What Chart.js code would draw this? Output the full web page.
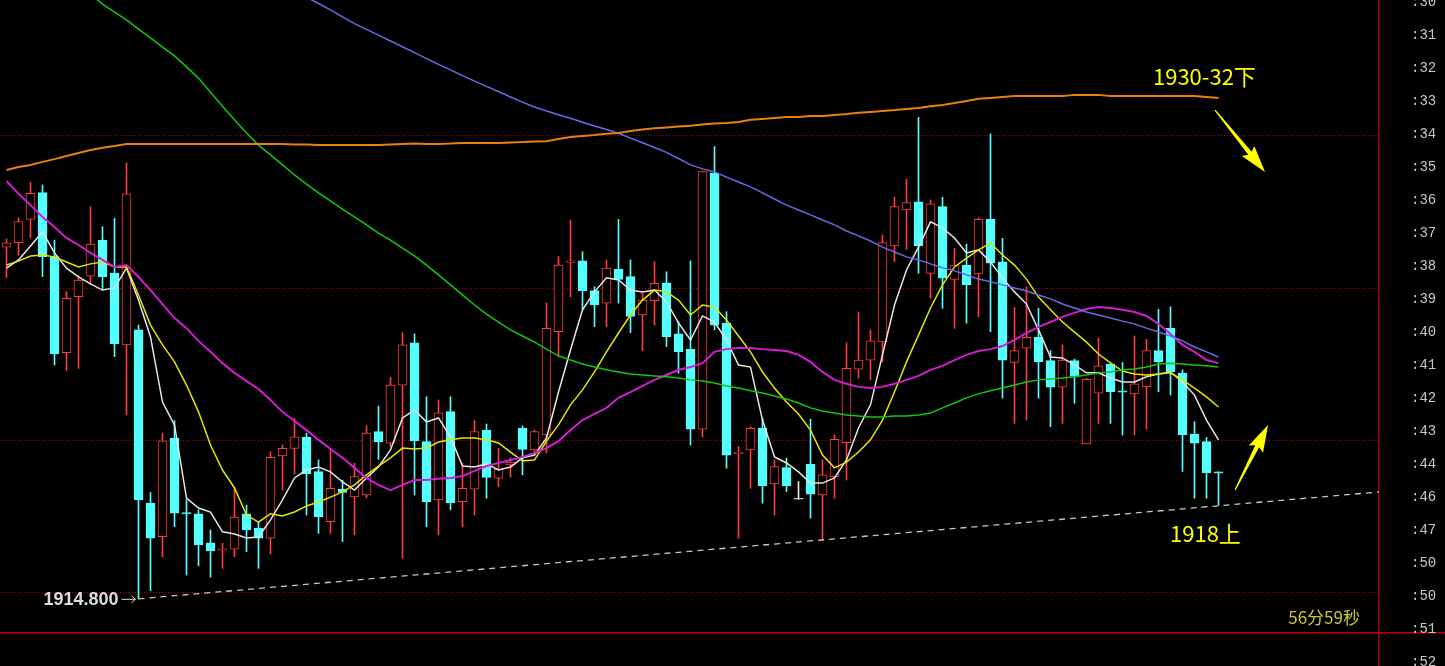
<!DOCTYPE html>
<html>
<head>
<meta charset="utf-8">
<script src="https://cdn.jsdelivr.net/npm/chart.js@4.4.1/dist/chart.umd.min.js"></script>
<style>
  html, body { margin: 0; padding: 0; background: #000; overflow: hidden; }
  canvas { display: block; }
</style>
</head>
<body>
<canvas id="kline" width="1445" height="666"></canvas>
<script>
// candle data (one bar per period)
const candleO = [1926.35, 1926.50, 1927.26, 1928.14, 1926.04, 1922.88, 1924.72, 1925.40, 1926.58, 1925.49,
  1923.14, 1923.63, 1917.94, 1916.84, 1920.07, 1917.63, 1917.59, 1916.64, 1916.40, 1916.43,
  1917.59, 1917.12, 1916.79, 1919.49, 1919.74, 1920.10, 1918.98, 1917.33, 1918.40, 1918.15,
  1918.21, 1920.29, 1919.91, 1921.82, 1923.21, 1919.96, 1918.05, 1920.95, 1917.99, 1918.40,
  1920.34, 1918.76, 1919.20, 1920.40, 1919.69, 1920.18, 1923.57, 1925.85, 1925.90, 1924.92,
  1924.51, 1925.62, 1925.38, 1924.12, 1924.59, 1925.18, 1923.50, 1922.99, 1920.37, 1928.78,
  1923.85, 1919.57, 1919.69, 1920.40, 1918.57, 1919.11, 1918.07, 1919.22, 1918.21, 1918.81,
  1919.93, 1922.34, 1922.64, 1923.24, 1926.39, 1927.57, 1927.84, 1925.49, 1927.68, 1925.29,
  1925.76, 1925.47, 1927.26, 1925.87, 1922.56, 1923.03, 1923.39, 1922.62, 1921.75, 1922.62,
  1919.89, 1921.55, 1922.51, 1921.63, 1921.53, 1921.77, 1922.95, 1923.68, 1922.21, 1920.21,
  1919.96, 1918.97];
const candleH = [1926.62, 1927.31, 1928.47, 1928.39, 1926.58, 1924.89, 1925.40, 1927.68, 1927.02, 1927.30,
  1929.12, 1923.79, 1918.29, 1920.24, 1920.65, 1918.05, 1917.72, 1917.06, 1916.62, 1918.46,
  1917.88, 1917.33, 1919.63, 1919.85, 1920.73, 1920.24, 1919.36, 1919.74, 1918.70, 1919.25,
  1920.48, 1921.13, 1922.07, 1923.54, 1923.50, 1921.44, 1921.33, 1921.44, 1919.25, 1920.67,
  1920.54, 1919.74, 1919.43, 1920.48, 1920.34, 1924.51, 1926.04, 1927.24, 1926.20, 1925.05,
  1925.93, 1927.26, 1925.93, 1924.84, 1925.87, 1925.54, 1923.90, 1925.90, 1928.85, 1929.65,
  1924.23, 1919.80, 1920.45, 1920.73, 1919.36, 1919.42, 1918.65, 1920.70, 1919.36, 1920.18,
  1923.21, 1924.22, 1923.63, 1926.75, 1927.99, 1928.58, 1930.61, 1927.90, 1927.99, 1926.31,
  1926.45, 1927.31, 1930.07, 1926.64, 1924.37, 1925.05, 1924.34, 1922.95, 1923.14, 1922.67,
  1922.04, 1923.36, 1922.54, 1922.56, 1923.43, 1923.32, 1924.31, 1924.39, 1922.32, 1920.62,
  1920.10, 1918.97];
const candleL = [1925.34, 1926.09, 1926.65, 1925.38, 1922.48, 1922.29, 1922.37, 1925.11, 1924.94, 1922.75,
  1920.84, 1914.80, 1915.07, 1916.18, 1917.17, 1915.58, 1915.88, 1915.51, 1915.80, 1916.18,
  1916.35, 1915.80, 1916.27, 1918.37, 1918.90, 1917.55, 1916.95, 1916.95, 1916.68, 1916.90,
  1918.11, 1919.38, 1919.79, 1916.13, 1918.21, 1917.17, 1916.90, 1917.72, 1917.17, 1917.55,
  1918.10, 1918.48, 1918.80, 1918.87, 1919.52, 1919.59, 1922.75, 1924.72, 1924.29, 1923.74,
  1923.74, 1924.51, 1923.54, 1922.95, 1923.79, 1923.08, 1922.21, 1919.85, 1920.12, 1923.63,
  1919.09, 1916.79, 1918.43, 1917.94, 1917.55, 1918.32, 1918.07, 1917.45, 1916.73, 1918.10,
  1918.70, 1922.04, 1921.99, 1922.58, 1925.87, 1926.28, 1925.49, 1924.67, 1924.34, 1923.68,
  1923.85, 1924.06, 1923.57, 1921.39, 1920.56, 1920.67, 1921.39, 1920.45, 1920.56, 1921.22,
  1919.89, 1920.56, 1920.56, 1920.18, 1920.18, 1920.37, 1921.60, 1921.49, 1918.98, 1918.10,
  1918.10, 1917.88];
const candleC = [1926.49, 1927.19, 1928.12, 1926.04, 1922.84, 1924.67, 1925.27, 1926.45, 1925.38, 1923.17,
  1928.10, 1918.05, 1916.79, 1919.99, 1917.61, 1917.59, 1916.57, 1916.38, 1916.44, 1917.48,
  1917.06, 1916.79, 1919.45, 1919.74, 1920.12, 1918.90, 1917.50, 1918.43, 1918.29, 1918.81,
  1920.24, 1919.96, 1921.82, 1923.14, 1919.99, 1917.99, 1920.91, 1917.96, 1918.43, 1920.29,
  1918.79, 1919.05, 1919.29, 1919.71, 1920.29, 1923.68, 1925.76, 1925.90, 1924.92, 1924.45,
  1925.66, 1925.29, 1924.07, 1924.61, 1925.16, 1923.41, 1922.92, 1920.37, 1928.83, 1923.79,
  1919.52, 1919.62, 1920.40, 1918.51, 1919.14, 1918.51, 1918.07, 1918.24, 1918.87, 1920.04,
  1922.37, 1922.64, 1923.27, 1926.50, 1927.68, 1927.81, 1926.39, 1927.77, 1925.33, 1925.76,
  1925.11, 1927.26, 1925.82, 1922.64, 1922.95, 1923.39, 1922.59, 1921.75, 1922.64, 1922.10,
  1922.01, 1922.45, 1921.60, 1921.59, 1921.86, 1922.95, 1922.59, 1922.26, 1920.18, 1919.91,
  1918.94, 1918.93];

// moving averages
const ma5 = [1925.66, 1925.93, 1926.39, 1926.85, 1926.16, 1925.66, 1925.37, 1925.14, 1924.94, 1925.01,
  1925.66, 1924.61, 1923.40, 1921.26, 1920.51, 1918.11, 1917.78, 1917.65, 1917.00, 1916.93,
  1916.80, 1916.83, 1917.39, 1918.05, 1918.77, 1919.03, 1919.13, 1918.97, 1918.64, 1918.37,
  1918.77, 1919.13, 1919.69, 1920.74, 1921.00, 1920.61, 1920.74, 1920.11, 1919.16, 1919.13,
  1919.23, 1919.03, 1919.13, 1919.43, 1919.52, 1920.08, 1921.59, 1922.97, 1924.29, 1924.88,
  1925.34, 1925.27, 1924.94, 1924.88, 1924.94, 1924.55, 1923.86, 1923.30, 1924.09, 1923.89,
  1923.30, 1922.48, 1922.41, 1920.67, 1919.46, 1919.26, 1918.97, 1918.60, 1918.60, 1918.77,
  1919.36, 1920.41, 1921.17, 1922.81, 1924.45, 1925.60, 1926.35, 1927.18, 1926.98, 1926.65,
  1926.16, 1926.26, 1925.86, 1925.34, 1924.88, 1924.48, 1923.63, 1922.74, 1922.71, 1922.48,
  1922.22, 1922.22, 1922.05, 1921.92, 1921.92, 1922.09, 1922.18, 1922.25, 1921.92, 1921.49,
  1920.67, 1920.02];
const ma10 = [1925.76, 1925.89, 1926.06, 1926.09, 1926.03, 1925.86, 1925.70, 1925.80, 1925.86, 1925.70,
  1925.70, 1924.78, 1923.79, 1923.14, 1922.58, 1921.82, 1920.94, 1919.85, 1919.03, 1918.44,
  1917.55, 1917.32, 1917.59, 1917.52, 1917.65, 1917.85, 1917.98, 1918.14, 1918.31, 1918.54,
  1918.87, 1919.16, 1919.43, 1919.75, 1919.72, 1919.75, 1919.95, 1920.02, 1920.08, 1920.08,
  1920.02, 1919.92, 1919.62, 1919.33, 1919.36, 1919.98, 1920.51, 1921.17, 1921.66, 1922.25,
  1922.91, 1923.53, 1924.12, 1924.61, 1924.94, 1924.88, 1924.61, 1924.12, 1924.45, 1924.38,
  1923.96, 1923.43, 1922.91, 1922.25, 1921.72, 1921.26, 1920.87, 1920.34, 1919.52, 1919.10,
  1919.29, 1919.62, 1920.02, 1920.67, 1921.59, 1922.58, 1923.46, 1924.35, 1925.11, 1925.70,
  1925.99, 1926.26, 1926.49, 1926.09, 1925.76, 1925.30, 1924.71, 1924.29, 1923.89, 1923.56,
  1923.23, 1922.84, 1922.55, 1922.28, 1922.18, 1922.15, 1922.18, 1922.22, 1921.99, 1921.72,
  1921.43, 1921.10];
const ma20 = [1928.52, 1928.10, 1927.73, 1927.34, 1927.01, 1926.65, 1926.42, 1926.16, 1925.93, 1925.70,
  1925.76, 1925.37, 1924.94, 1924.48, 1924.02, 1923.69, 1923.27, 1922.91, 1922.54, 1922.22,
  1921.95, 1921.69, 1921.33, 1920.94, 1920.64, 1920.34, 1920.02, 1919.72, 1919.43, 1919.10,
  1918.77, 1918.54, 1918.37, 1918.54, 1918.70, 1918.70, 1918.74, 1918.77, 1918.83, 1919.00,
  1919.16, 1919.26, 1919.36, 1919.46, 1919.59, 1919.75, 1919.98, 1920.34, 1920.67, 1920.87,
  1921.07, 1921.40, 1921.59, 1921.79, 1921.99, 1922.15, 1922.32, 1922.41, 1922.54, 1922.91,
  1923.00, 1923.04, 1923.04, 1923.00, 1922.97, 1922.94, 1922.81, 1922.58, 1922.25, 1921.99,
  1921.86, 1921.76, 1921.72, 1921.76, 1921.86, 1921.99, 1922.12, 1922.32, 1922.45, 1922.64,
  1922.81, 1922.94, 1923.00, 1923.10, 1923.30, 1923.53, 1923.73, 1923.89, 1924.06, 1924.19,
  1924.32, 1924.38, 1924.35, 1924.29, 1924.22, 1924.09, 1923.83, 1923.50, 1923.14, 1922.91,
  1922.64, 1922.54];
const ma60 = [null, null, null, null, null, null, null,
  1934.66, 1934.33, 1934.07, 1933.81, 1933.51, 1933.22, 1932.92, 1932.63, 1932.27, 1931.90,
  1931.44, 1930.98, 1930.53, 1930.10, 1929.70, 1929.38, 1929.05, 1928.72, 1928.42, 1928.13,
  1927.87, 1927.60, 1927.34, 1927.08, 1926.81, 1926.58, 1926.32, 1926.06, 1925.76, 1925.44,
  1925.11, 1924.78, 1924.45, 1924.15, 1923.89, 1923.63, 1923.43, 1923.23, 1923.00, 1922.78,
  1922.64, 1922.51, 1922.41, 1922.32, 1922.25, 1922.18, 1922.15, 1922.12, 1922.09, 1922.05,
  1921.99, 1921.95, 1921.89, 1921.79, 1921.72, 1921.63, 1921.56, 1921.46, 1921.36, 1921.23,
  1921.07, 1920.97, 1920.90, 1920.84, 1920.80, 1920.77, 1920.77, 1920.80, 1920.80, 1920.84,
  1920.90, 1921.07, 1921.23, 1921.40, 1921.53, 1921.63, 1921.72, 1921.82, 1921.92, 1921.99,
  1922.02, 1922.05, 1922.09, 1922.15, 1922.22, 1922.25, 1922.32, 1922.35, 1922.41, 1922.51,
  1922.54, 1922.51, 1922.48, 1922.45, 1922.41];
const ma120 = [null, null, null, null, null, null, null, null, null, null,
  null, null, null, null, null, null, null, null, null, null,
  null, null, null, null, null,
  1934.56, 1934.35, 1934.14, 1933.91, 1933.69,
  1933.50, 1933.31, 1933.12, 1932.93, 1932.74, 1932.54, 1932.35, 1932.17, 1931.98, 1931.80,
  1931.63, 1931.46, 1931.28, 1931.11, 1930.95, 1930.82, 1930.70, 1930.58, 1930.45, 1930.33,
  1930.21, 1930.09, 1929.93, 1929.78, 1929.62, 1929.46, 1929.26, 1929.05, 1928.92, 1928.82,
  1928.65, 1928.49, 1928.33, 1928.13, 1927.93, 1927.73, 1927.57, 1927.41, 1927.24, 1927.08,
  1926.88, 1926.72, 1926.55, 1926.35, 1926.19, 1926.03, 1925.93, 1925.80, 1925.67, 1925.57,
  1925.44, 1925.30, 1925.21, 1925.11, 1925.01, 1924.91, 1924.78, 1924.65, 1924.48, 1924.35,
  1924.22, 1924.12, 1924.02, 1923.92, 1923.83, 1923.69, 1923.56, 1923.43, 1923.27, 1923.07,
  1922.91, 1922.74];
const ma250 = [1928.88, 1928.98, 1929.05, 1929.15, 1929.24, 1929.34, 1929.44, 1929.54, 1929.61, 1929.67,
  1929.74, 1929.74, 1929.74, 1929.74, 1929.74, 1929.74, 1929.74, 1929.74, 1929.74, 1929.74,
  1929.74, 1929.74, 1929.74, 1929.74, 1929.72, 1929.72, 1929.70, 1929.70, 1929.70, 1929.70,
  1929.70, 1929.70, 1929.72, 1929.74, 1929.75, 1929.74, 1929.74, 1929.75, 1929.77, 1929.77,
  1929.77, 1929.77, 1929.79, 1929.80, 1929.82, 1929.83, 1929.90, 1929.97, 1930.00, 1930.03,
  1930.07, 1930.10, 1930.16, 1930.21, 1930.25, 1930.28, 1930.31, 1930.34, 1930.38, 1930.41,
  1930.43, 1930.46, 1930.53, 1930.56, 1930.59, 1930.62, 1930.62, 1930.66, 1930.66, 1930.69,
  1930.72, 1930.76, 1930.79, 1930.82, 1930.85, 1930.89, 1930.92, 1930.98, 1931.02, 1931.08,
  1931.15, 1931.22, 1931.25, 1931.28, 1931.31, 1931.31, 1931.31, 1931.31, 1931.31, 1931.35,
  1931.35, 1931.35, 1931.31, 1931.31, 1931.31, 1931.31, 1931.31, 1931.31, 1931.31, 1931.31,
  1931.28, 1931.25];

// support line drawn from the low (bar index, price)
const trendX = [11, 114.4];
const trendY = [1914.80, 1918.31];

// price levels of the dotted grid, and the panel separator
const gridPrices = [1915, 1920, 1925, 1930];
const separatorPrice = [1913.69];

// right-hand tick labels (as shown, cut off)
const tickLabels = [':30', ':31', ':32', ':33', ':34', ':35', ':36', ':37', ':38', ':39', ':40',
  ':41', ':42', ':43', ':44', ':46', ':47', ':50', ':50', ':51', ':52'];

const UP = '#ff3b3b';
const DOWN = '#54ffff';
const FLAT = '#e6e6e6';

function candleColor(i) {
    if (candleC[i] > candleO[i]) return UP;
    if (candleC[i] < candleO[i]) return DOWN;
    return FLAT;
}

const priceMin = 1912.593;
const priceMax = 1934.466;
const xMin = -0.5417;
const xMax = 114.375;

function lineSet(values, color, width) {
    return {
        type: 'line',
        data: values.map((v, i) => ({ x: i, y: v })),
        borderColor: color,
        borderWidth: width,
        pointRadius: 0,
        tension: 0,
        spanGaps: false,
        order: 0
    };
}

// no extra room above/below the plot for the end labels
function noPad(s) {
    s.paddingTop = 0;
    s.paddingBottom = 0;
}

// text and arrows placed in data coordinates
const notes = [
    { text: '1930-32下', x: 95.54, y: 1931.94, color: '#ffff00', font: '22px "Noto Sans CJK SC"', align: 'left' },
    { text: '1918上', x: 96.96, y: 1916.93, color: '#ffff00', font: '22px "Noto Sans CJK SC"', align: 'left' },
    { text: '56分59秒', x: 112.79, y: 1914.17, color: '#c8c83c', font: '17px "Noto Sans CJK SC"', align: 'right' }
];
const arrows = [
    { from: [100.71, 1930.85], to: [104.88, 1928.82] },
    { from: [102.38, 1918.37], to: [105.13, 1920.51] }
];

const notesPlugin = {
    id: 'notes',
    afterDraw(chart) {
        const ctx = chart.ctx;
        const xs = chart.scales.x;
        const ys = chart.scales.y;
        ctx.save();
        ctx.textBaseline = 'middle';
        notes.forEach(n => {
            ctx.font = n.font;
            ctx.fillStyle = n.color;
            ctx.textAlign = n.align;
            ctx.fillText(n.text, xs.getPixelForValue(n.x), ys.getPixelForValue(n.y));
        });

        // lowest price marker
        const lowX = xs.getPixelForValue(11);
        const lowY = ys.getPixelForValue(candleL[11]);
        ctx.font = 'bold 18px "Liberation Sans"';
        ctx.fillStyle = '#dcdcdc';
        ctx.textAlign = 'right';
        ctx.fillText(candleL[11].toFixed(3), lowX - 20, lowY + 1);
        ctx.strokeStyle = '#dcdcdc';
        ctx.lineWidth = 1;
        ctx.beginPath();
        ctx.moveTo(lowX - 17, lowY + 0.5);
        ctx.lineTo(lowX - 3, lowY + 0.5);
        ctx.moveTo(lowX - 7, lowY - 3);
        ctx.lineTo(lowX - 3, lowY + 0.5);
        ctx.lineTo(lowX - 7, lowY + 4);
        ctx.stroke();

        // yellow arrows
        ctx.fillStyle = '#ffff00';
        arrows.forEach(a => {
            const x1 = xs.getPixelForValue(a.from[0]), y1 = ys.getPixelForValue(a.from[1]);
            const x2 = xs.getPixelForValue(a.to[0]), y2 = ys.getPixelForValue(a.to[1]);
            const len = Math.hypot(x2 - x1, y2 - y1);
            const ux = (x2 - x1) / len, uy = (y2 - y1) / len;
            const nx = -uy, ny = ux;
            const headLen = 24, headW = 8;
            const bx = x2 - ux * headLen, by = y2 - uy * headLen;
            ctx.beginPath();
            ctx.moveTo(x1 + nx * 0.6, y1 + ny * 0.6);
            ctx.lineTo(bx + nx * 2.2, by + ny * 2.2);
            ctx.lineTo(bx - ux * 3 + nx * headW, by - uy * 3 + ny * headW);
            ctx.lineTo(x2, y2);
            ctx.lineTo(bx - ux * 3 - nx * headW, by - uy * 3 - ny * headW);
            ctx.lineTo(bx - nx * 2.2, by - ny * 2.2);
            ctx.lineTo(x1 - nx * 0.6, y1 - ny * 0.6);
            ctx.closePath();
            ctx.fill();
        });
        ctx.restore();
    }
};

const ctx = document.getElementById('kline').getContext('2d');
const klineChart = new Chart(ctx, {
    type: 'bar',
    data: {
        datasets: [
            lineSet(ma250, '#e8810f', 2),
            lineSet(ma120, '#6a6ae6', 1.5),
            lineSet(ma60, '#10c810', 1.5),
            lineSet(ma20, '#d21ed2', 2),
            lineSet(ma10, '#e6e600', 1.5),
            lineSet(ma5, '#e6e6e6', 1.5),
            {
                type: 'line',
                data: trendX.map((x, i) => ({ x: x, y: trendY[i] })),
                borderColor: '#c8c8c8',
                borderWidth: 1.3,
                borderDash: [6, 5],
                pointRadius: 0,
                order: 0
            },
            {
                // candle bodies
                data: candleO.map((o, i) => ({ x: i, y: [o, candleC[i]] })),
                backgroundColor: c => candleC[c.dataIndex] > candleO[c.dataIndex] ? '#000' : candleColor(c.dataIndex),
                borderColor: c => candleColor(c.dataIndex),
                borderWidth: 1,
                borderSkipped: false,
                barThickness: 9,
                minBarLength: 1,
                grouped: false,
                order: 1
            },
            {
                // wicks
                data: candleL.map((l, i) => ({ x: i, y: [l, candleH[i]] })),
                backgroundColor: c => candleColor(c.dataIndex),
                borderWidth: 0,
                barThickness: 1,
                grouped: false,
                order: 2
            }
        ]
    },
    options: {
        responsive: false,
        animation: false,
        events: [],
        layout: { padding: 0 },
        plugins: {
            legend: { display: false },
            tooltip: { enabled: false }
        },
        scales: {
            x: {
                type: 'linear',
                min: xMin,
                max: xMax,
                offset: false,
                display: false
            },
            y: {
                type: 'linear',
                position: 'left',
                min: priceMin,
                max: priceMax,
                afterBuildTicks: s => { s.ticks = gridPrices.map(v => ({ value: v })); },
                afterFit: s => { s.width = 0; noPad(s); },
                ticks: { display: false },
                grid: { color: '#c00000', lineWidth: 1, drawTicks: false },
                border: { display: false, dash: [1, 2] }
            },
            ysep: {
                type: 'linear',
                position: 'right',
                weight: 0,
                min: priceMin,
                max: priceMax,
                afterBuildTicks: s => { s.ticks = separatorPrice.map(v => ({ value: v })); },
                afterFit: s => { s.width = 0; noPad(s); },
                ticks: { display: false },
                grid: { color: '#c00000', lineWidth: 1.5, drawTicks: true, tickLength: 66, tickColor: '#c00000', tickWidth: 1.5 },
                border: { display: false }
            },
            yl: {
                type: 'linear',
                position: 'right',
                weight: 1,
                reverse: true,
                min: -0.0606,
                max: 20.1212,
                afterBuildTicks: s => { s.ticks = tickLabels.map((_, i) => ({ value: i })); },
                afterFit: s => { s.width = 66; noPad(s); },
                ticks: {
                    callback: (v, i) => tickLabels[i],
                    color: '#c8c8c8',
                    font: { family: 'Liberation Mono', size: 14 },
                    padding: 32,
                    autoSkip: false,
                    crossAlign: 'near'
                },
                grid: { display: false, drawTicks: false },
                border: { display: true, color: '#a00000', width: 1.5 }
            }
        }
    },
    plugins: [notesPlugin]
});
</script>
</body>
</html>
